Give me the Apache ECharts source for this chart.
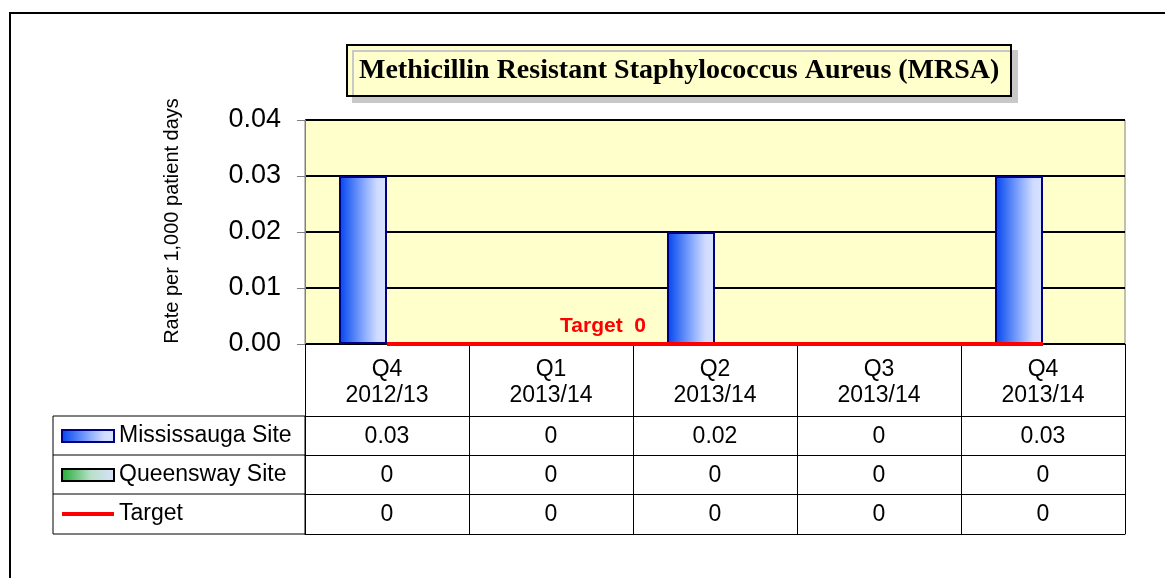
<!DOCTYPE html>
<html>
<head>
<meta charset="utf-8">
<script src="https://cdn.jsdelivr.net/npm/echarts@6/dist/echarts.min.js"></script>
<style>
  html, body { margin: 0; padding: 0; background: #fff; }
  #chart { width: 1165px; height: 578px; }
</style>
</head>
<body>
<div id="chart"></div>
<script>
// chart data
const quarters = ['Q4\n2012/13', 'Q1\n2013/14', 'Q2\n2013/14', 'Q3\n2013/14', 'Q4\n2013/14'];
const mississauga = [0.03, 0, 0.02, 0, 0.03];
const queensway = [0, 0, 0, 0, 0];
const target = [0, 0, 0, 0, 0];
const yMin = 0, yMax = 0.04, yStep = 0.01;

const font = 'Liberation Sans, Arial, sans-serif';
const tableFont = 23;

// one extra x axis per data table row, stacked under the plot
function tableAxis(values, offset, rowH) {
  return {
    type: 'category',
    gridIndex: 0,
    position: 'bottom',
    offset: offset,
    data: values.map(v => String(v)),
    axisLine: { show: true, lineStyle: { color: '#000', width: 1 } },
    axisTick: { show: true, interval: 0, alignWithLabel: false, length: rowH, lineStyle: { color: '#000' } },
    axisLabel: { interval: 0, margin: (rowH - tableFont) / 2 + 1, fontFamily: font, fontSize: tableFont, lineHeight: tableFont, color: '#000' },
    splitLine: { show: false }
  };
}

const chart = echarts.init(document.getElementById('chart'));

var option = {
  animation: false,
  title: {
    text: 'Methicillin Resistant Staphylococcus Aureus (MRSA)',
    left: 347,
    top: 45,
    padding: [10, 12],
    backgroundColor: '#ffffcc',
    borderColor: '#000',
    borderWidth: 2,
    shadowColor: '#c8c8c8',
    shadowBlur: 0,
    shadowOffsetX: 6,
    shadowOffsetY: 6,
    textStyle: { fontFamily: 'Liberation Serif, Times New Roman, serif', fontWeight: 'bold', fontSize: 28, lineHeight: 31, color: '#000' }
  },
  legend: {
    orient: 'vertical',
    left: 61,
    top: 424,
    padding: 0,
    itemWidth: 52,
    itemHeight: 12,
    itemGap: 15,
    selectedMode: false,
    textStyle: { fontFamily: font, fontSize: tableFont, lineHeight: 24, color: '#000' },
    data: [
      { name: 'Mississauga Site', icon: 'rect' },
      { name: 'Queensway Site', icon: 'rect' },
      { name: 'Target', icon: 'path://M0 0H52V4H0Z' }
    ]
  },
  grid: {
    left: 305,
    right: 40,
    top: 120,
    bottom: 234,
    show: true,
    backgroundColor: '#ffffcc',
    borderColor: '#808080',
    borderWidth: 1
  },
  xAxis: [
    {
      type: 'category',
      data: quarters,
      axisLine: { show: true, lineStyle: { color: '#000', width: 1 } },
      axisTick: { show: true, interval: 0, alignWithLabel: false, length: 72, lineStyle: { color: '#000' } },
      axisLabel: { interval: 0, margin: 13, fontFamily: font, fontSize: tableFont, lineHeight: 26, color: '#000' },
      splitLine: { show: false }
    },
    tableAxis(mississauga, 72, 39),
    tableAxis(queensway, 111, 39),
    tableAxis(target, 150, 40),
    {
      type: 'category',
      gridIndex: 0,
      position: 'bottom',
      offset: 190,
      data: quarters,
      axisLine: { show: true, lineStyle: { color: '#000', width: 1 } },
      axisTick: { show: false },
      axisLabel: { show: false }
    }
  ],
  yAxis: {
    type: 'value',
    min: yMin,
    max: yMax,
    interval: yStep,
    name: 'Rate per 1,000 patient days',
    nameLocation: 'middle',
    nameRotate: 90,
    nameGap: 123,
    nameTextStyle: { fontFamily: font, fontSize: 20, color: '#000', padding: [0, 0, 0, 22] },
    axisLine: { show: true, lineStyle: { color: '#808080' } },
    axisTick: { show: true, length: 8, lineStyle: { color: '#808080' } },
    axisLabel: { margin: 24, fontFamily: font, fontSize: 27, color: '#000', formatter: v => v.toFixed(2) },
    splitLine: { show: true, lineStyle: { color: '#000', width: 2 } }
  },
  series: [
    {
      name: 'Mississauga Site',
      type: 'bar',
      barWidth: 48,
      barGap: '0%',
      data: mississauga,
      itemStyle: {
        color: new echarts.graphic.LinearGradient(0, 0, 1, 0, [
          { offset: 0, color: '#0044ee' },
          { offset: 0.55, color: '#90b0ff' },
          { offset: 0.8, color: '#d0dcff' },
          { offset: 1, color: '#d8e2ff' }
        ]),
        borderColor: '#000080',
        borderWidth: 2
      }
    },
    {
      name: 'Queensway Site',
      type: 'bar',
      barWidth: 48,
      barGap: '0%',
      data: queensway,
      itemStyle: {
        color: new echarts.graphic.LinearGradient(0, 0, 1, 0, [
          { offset: 0, color: '#22aa33' },
          { offset: 0.55, color: '#b8e0c8' },
          { offset: 1, color: '#d8e2ff' }
        ]),
        borderColor: '#000',
        borderWidth: 2
      }
    },
    {
      name: 'Target',
      type: 'line',
      z: 5,
      symbol: 'circle',
      symbolSize: 1,
      data: target.map((v, i) => i === 1 ? {
        value: v,
        label: {
          show: true,
          position: 'top',
          distance: 5,
          offset: [52, -2],
          formatter: p => 'Target  ' + p.value,
          fontFamily: font,
          fontWeight: 'bold',
          fontSize: 21,
          color: '#ff0000'
        }
      } : v),
      itemStyle: { color: '#ff0000' },
      lineStyle: { color: '#ff0000', width: 4 }
    }
  ],
  graphic: [
    // outer frame
    { type: 'rect', shape: { x: 10, y: 13, width: 1300, height: 700 }, style: { fill: 'none', stroke: '#000', lineWidth: 2 }, silent: true },
    // legend column of the data table
    { type: 'rect', shape: { x: 53, y: 416, width: 252, height: 118 }, style: { fill: 'none', stroke: '#000', lineWidth: 1 }, silent: true },
    { type: 'line', shape: { x1: 53, y1: 455, x2: 305, y2: 455 }, style: { stroke: '#000', lineWidth: 1 }, silent: true },
    { type: 'line', shape: { x1: 53, y1: 494, x2: 305, y2: 494 }, style: { stroke: '#000', lineWidth: 1 }, silent: true }
  ]
};

chart.setOption(option);
</script>
</body>
</html>
